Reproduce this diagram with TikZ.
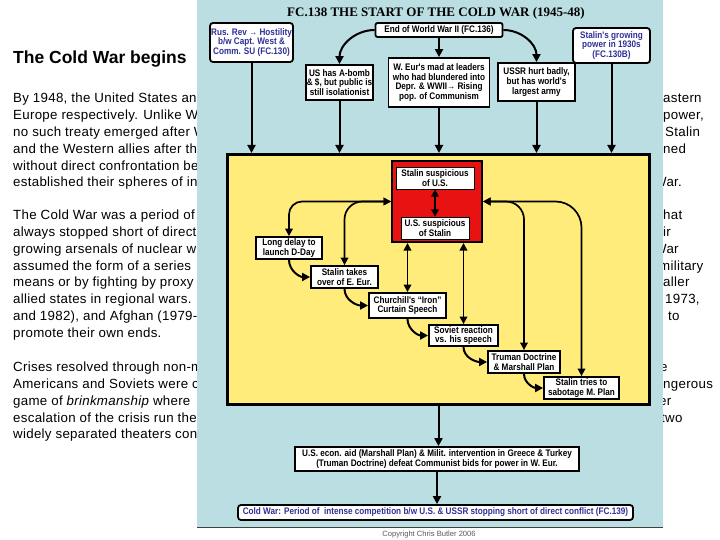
\documentclass[tikz,border=0pt]{standalone}
\usepackage{fontspec}
\setmainfont{Liberation Sans}
\newfontfamily\titleserif{Liberation Serif}
\newfontfamily\chartfont[FakeStretch=0.86]{Liberation Sans}
\newfontfamily\bodyfont[LetterSpace=2.2]{Liberation Sans}
\usepackage{xcolor}
\usetikzlibrary{arrows.meta}

\definecolor{panelblue}{RGB}{186,222,226}
\definecolor{zoneyellow}{RGB}{255,236,122}
\definecolor{corered}{RGB}{232,18,18}
\definecolor{linkblue}{RGB}{48,48,150}

\begin{document}
\begin{tikzpicture}[x=1pt, y=-1pt, font=\chartfont\bfseries\fontsize{9.5}{9.7}\selectfont, align=center]
      % Styles
      \tikzset{
        box/.style={rectangle, draw, line width=1.8pt, fill=white, inner sep=1pt},
        refbox/.style={box, rounded corners=3pt, text=linkblue},
        inbox/.style={rectangle, draw, thin, fill=white, inner sep=1pt},
        body/.style={anchor=north west, inner sep=0pt, align=left, font=\bodyfont\fontsize{13.3}{16.8}\selectfont},
        arrow/.style={-{Triangle[length=8pt, width=8pt]}, line width=2pt},
        twoway/.style={{Triangle[length=7.5pt, width=7.5pt]}-{Triangle[length=7.5pt, width=7.5pt]}, line width=1.7pt}
      }
      \useasboundingbox (0,0) rectangle (720,540);

      % Slide text
      \node (heading) [anchor=base west, inner sep=0pt, font=\bfseries\fontsize{17.5}{20}\selectfont] at (13,63.3) {The Cold War begins};
      \node (para1) [body] at (13,90.9) {\strut By 1948, the United States and\\ Europe respectively. Unlike W\\ no such treaty emerged after W\\ and the Western allies after the\\ without direct confrontation be\\ established their spheres of in};
      \node (para2) [body] at (13,207.7) {\strut The Cold War was a period of\\ always stopped short of direct\\ growing arsenals of nuclear w\\ assumed the form of a series\\ means or by fighting by proxy\\ allied states in regional wars.\\ and 1982), and Afghan (1979-\\ promote their own ends.};
      \node (para3) [body] at (13,359.7) {\strut Crises resolved through non-m\\ Americans and Soviets were c\\ game of {\itshape brinkmanship} where\\ escalation of the crisis run the\\ widely separated theaters con};
      \node (tail1) [body] at (663,90.9) {\strut astern\\ power,\\ \hspace*{2pt}Stalin\\ ned\\ \\ \hspace*{-9pt}War.};
      \node (tail2) [body] at (663,207.7) {\strut hat\\ ir\\ \hspace*{-9pt}War\\ \hspace*{-4pt}military\\ aller\\ \hspace*{2pt}1973,\\ \hspace*{5pt}to};
      \node (tail3) [body] at (663,359.7) {\strut\hspace*{-3pt}e\\ ngerous\\ \hspace*{-4pt}er\\ \hspace*{-2pt}two};

      % Chart panel
      \node (panel) [rectangle, fill=panelblue, inner sep=0pt, minimum width=466pt, minimum height=527pt, anchor=north west] at (197,0) {};
      \draw [line width=0.8pt, black!75] (panel.south west) -- (panel.south east);
      \node (copyright) [font=\mdseries\fontsize{7.6}{9}\selectfont, text=black!65] at (429,535) {Copyright Chris Butler 2006};
      \node (title) [font=\titleserif\bfseries\fontsize{13}{15}\selectfont] at (436,13.5) {FC.138 THE START OF THE COLD WAR (1945-48)};

      % Nodes
      \node (rus) [refbox, minimum width=83pt, minimum height=39pt] at (251.5,42.5) {Rus. Rev → Hostility\\ b/w Capt. West \&\\ Comm. SU (FC.130)};
      \node (endww) [box, rounded corners=2pt, minimum width=127pt, minimum height=14pt] at (439,30) {End of World War II (FC.136)};
      \node (growth) [refbox, minimum width=77pt, minimum height=35pt] at (611.5,45.5) {Stalin's growing\\ power in 1930s\\ (FC.130B)};
      \node (bomb) [box, minimum width=67pt, minimum height=35pt] at (339.5,82.5) {US has A-bomb\\ \& \$, but public is\\ still isolationist};
      \node (weur) [box, minimum width=101pt, minimum height=49pt] at (439,82.5) {W. Eur's mad at leaders\\ who had blundered into\\ Depr. \& WWII→ Rising\\ pop. of Communism};
      \node (ussr) [box, minimum width=77pt, minimum height=38pt] at (536.5,82) {USSR hurt badly,\\ but has world's\\ largest army};

      \node (arena) [rectangle, draw, line width=3pt, fill=zoneyellow, minimum width=422pt, minimum height=250pt] at (438.5,279.5) {};
      \node (core) [rectangle, draw, line width=2pt, fill=corered, minimum width=90pt, minimum height=81pt] at (437,201.5) {};
      \node (susUS) [inbox, minimum width=78pt, minimum height=22pt] at (435,178) {Stalin suspicious\\ of U.S.};
      \node (susSU) [inbox, minimum width=68pt, minimum height=22pt] at (435,228) {U.S. suspicious\\ of Stalin};

      \node (delay) [box, minimum width=66pt, minimum height=22pt] at (289,248) {Long delay to\\ launch D-Day};
      \node (takes) [box, minimum width=67pt, minimum height=22pt] at (344.5,277) {Stalin takes\\ over of E. Eur.};
      \node (iron) [box, minimum width=77pt, minimum height=25pt] at (407.5,305.5) {Churchill's “Iron”\\ Curtain Speech};
      \node (soviet) [box, minimum width=69pt, minimum height=21pt] at (463.5,335.5) {Soviet reaction\\ vs. his speech};
      \node (truman) [box, minimum width=72pt, minimum height=22pt] at (524,362) {Truman Doctrine\\ \& Marshall Plan};
      \node (sabotage) [box, minimum width=75pt, minimum height=22pt] at (581.5,388) {Stalin tries to\\ sabotage M. Plan};

      \node (aid) [box, minimum width=284pt, minimum height=24pt] at (437,459) {U.S. econ. aid (Marshall Plan) \& Milit. intervention in Greece \& Turkey\\ (Truman Doctrine) defeat Communist bids for power in W. Eur.};
      \node (coldwar) [refbox, minimum width=395pt, minimum height=15pt] at (435.5,512.5) {Cold War: Period of\ \ intense competition b/w U.S. \& USSR stopping short of direct conflict (FC.139)};

      % Arrows
      \draw [arrow] (endww.west) to[out=180, in=90] (bomb.north);
      \draw [arrow] (endww) -- (weur);
      \draw [arrow] (endww.east) to[out=0, in=90] (ussr.north);
      \draw [arrow] (rus) -- (rus |- arena.north);
      \draw [arrow] (bomb) -- (bomb |- arena.north);
      \draw [arrow] (weur) -- (weur |- arena.north);
      \draw [arrow] (ussr) -- (ussr |- arena.north);
      \draw [arrow] (growth) -- (growth |- arena.north);

      \draw [twoway] (susUS) -- (susSU);
      \draw [twoway, rounded corners=13pt] (delay.north) |- (core.west);
      \draw [twoway, rounded corners=18pt] (takes.north) |- (core.west);
      \draw [twoway] (iron.north) -- (iron.north |- core.south);
      \draw [twoway] (soviet.north) -- (soviet.north |- core.south);
      \draw [twoway, rounded corners=18pt] (truman.north) |- (core.east);
      \draw [twoway, rounded corners=26pt] (sabotage.north) |- (core.east);

      \draw [arrow] (delay.south) to[out=-90, in=180] (takes.west);
      \draw [arrow] (takes.south) to[out=-90, in=180] (iron.west);
      \draw [arrow] (iron.south) to[out=-90, in=180] (soviet.west);
      \draw [arrow] (soviet.south) to[out=-90, in=180] (truman.west);
      \draw [arrow] (truman.south) to[out=-90, in=180] (sabotage.west);

      \draw [arrow] (arena.south) -- (arena.south |- aid.north);
      \draw [arrow] (aid.south) -- (aid.south |- coldwar.north);
    \end{tikzpicture}
\end{document}
